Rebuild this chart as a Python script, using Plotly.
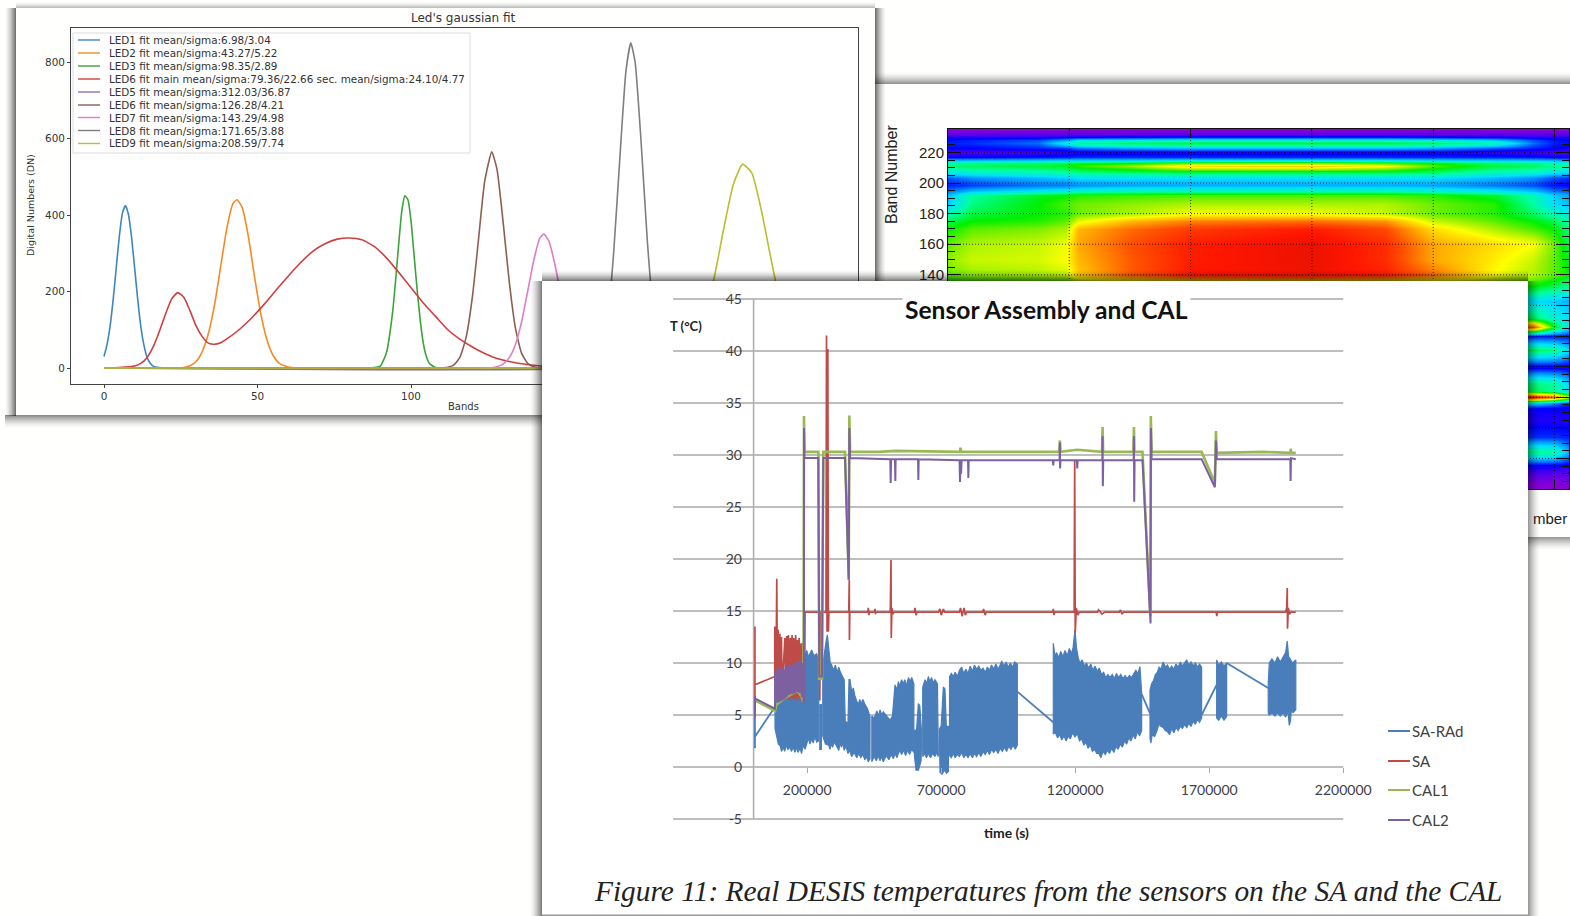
import plotly.graph_objects as go

W, H = 1570, 916

# ---------- Panel 1: LED gaussian fits ----------
LED_NAMES = ["LED1 fit mean/sigma:6.98/3.04", "LED2 fit mean/sigma:43.27/5.22", "LED3 fit mean/sigma:98.35/2.89",
             "LED6 fit main mean/sigma:79.36/22.66 sec. mean/sigma:24.10/4.77", "LED5 fit mean/sigma:312.03/36.87",
             "LED6 fit mean/sigma:126.28/4.21", "LED7 fit mean/sigma:143.29/4.98", "LED8 fit mean/sigma:171.65/3.88",
             "LED9 fit mean/sigma:208.59/7.74"]
LED_COLORS = ["#3f86bd", "#f58a24", "#3ba33b", "#cf3f3f", "#9370bd", "#8c5f52", "#e07cc4", "#7f7f7f", "#bcbd30"]
LED1_X = [0, 1, 2, 3, 4, 5, 6, 7, 8, 9, 10, 11, 12, 13, 14, 15, 16, 18, 20, 239]
LED1_Y = [30, 62, 110, 180, 263, 345, 405, 425, 400, 340, 260, 178, 108, 60, 29, 13, 5, 1, 0, 0]
LED2_X = [0, 24, 26, 28, 30, 32, 34, 36, 38, 40, 42, 43.3, 45, 47, 49, 51, 53, 55, 57, 59, 61, 64, 239]
LED2_Y = [0, 0, 1, 6, 17, 43, 90, 165, 265, 365, 430, 440, 420, 345, 240, 145, 76, 34, 13, 5, 1, 0, 0]
LED3_X = [0, 86, 88, 90, 92, 94, 95, 96, 97, 98, 99, 100, 101, 102, 103, 104, 105, 106, 108, 110, 239]
LED3_Y = [0, 0, 1, 5, 40, 145, 230, 325, 410, 450, 440, 385, 295, 205, 125, 65, 30, 12, 1, 0, 0]
LED4_X = [0, 5, 10, 12, 14, 16, 18, 20, 22, 24, 26, 28, 30, 32, 34, 36, 38, 40, 44, 48, 52, 56, 60, 64, 68, 72, 76,
          80, 84, 88, 92, 96, 100, 104, 108, 112, 116, 120, 124, 128, 132, 136, 140, 144, 150, 160, 239]
LED4_Y = [0, 1, 5, 12, 27, 55, 95, 140, 180, 197, 185, 150, 110, 82, 65, 62, 66, 76, 100, 130, 165, 203, 240, 275,
          305, 325, 337, 340, 335, 318, 288, 250, 210, 170, 135, 100, 75, 55, 38, 25, 17, 11, 7, 4, 1.5, 0, 0]
LED5_X = [0, 239]
LED5_Y = [0, 0]
LED6_X = [0, 108, 112, 114, 116, 118, 120, 122, 124, 126.3, 128, 130, 132, 134, 136, 138, 140, 142, 239]
LED6_Y = [0, 0, 2, 8, 29, 82, 186, 337, 488, 565, 520, 382, 226, 105, 39, 12, 3, 0, 0]
LED7_X = [0, 126, 130, 132, 134, 136, 138, 140, 142, 143.3, 145, 147, 149, 151, 153, 155, 157, 160, 239]
LED7_Y = [0, 0, 10, 27, 61, 120, 200, 282, 340, 350, 330, 266, 183, 105, 52, 22, 8, 0, 0]
LED8_X = [0, 157, 160, 162, 164, 166, 168, 170, 171.6, 173, 175, 177, 179, 181, 183, 185, 187, 239]
LED8_Y = [0, 0, 9, 38, 122, 300, 545, 775, 850, 800, 585, 330, 142, 47, 12, 3, 0, 0]
LED9_X = [0, 180, 184, 187, 190, 193, 196, 199, 202, 205, 208, 211, 214, 217, 220, 223, 226, 229, 235, 239]
LED9_Y = [0, 0, 3, 12, 30, 70, 145, 245, 370, 480, 533, 510, 417, 296, 180, 95, 43, 17, 1, 0]
LED_XS = [LED1_X, LED2_X, LED3_X, LED4_X, LED5_X, LED6_X, LED7_X, LED8_X, LED9_X]
LED_YS = [LED1_Y, LED2_Y, LED3_Y, LED4_Y, LED5_Y, LED6_Y, LED7_Y, LED8_Y, LED9_Y]
LED_XTICKS = [0, 50, 100, 150, 200]
LED_XTEXT = ["0", "50", "100", "", ""]
LED_YTICKS = [0, 200, 400, 600, 800]

# ---------- Panel 2: band / pixel heat map ----------
HEAT_X = [0, 40, 150, 195, 215, 300, 400, 600, 720, 800, 900, 965, 1000, 1024]
HEAT_BANDS = [0, 4, 11, 16, 24, 34, 45, 53, 56, 60, 64, 69, 80, 91, 100, 106, 112, 123, 133, 140, 150, 160, 170, 175,
              180, 186, 192, 195, 199, 203, 207, 211, 213, 215, 217, 220, 223, 226, 228, 230, 232, 235]
HEAT_Z = [
    [.02, .02, .02, .02, .02, .02, .02, .02, .02, .02, .02, .02, .02, .02],
    [.03, .03, .03, .03, .03, .03, .03, .03, .03, .03, .03, .03, .03, .03],
    [.08, .08, .08, .08, .08, .08, .08, .08, .08, .08, .08, .08, .07, .07],
    [.12, .12, .12, .12, .12, .12, .12, .12, .12, .12, .12, .12, .12, .11],
    [.4, .4, .4, .4, .4, .4, .4, .4, .4, .4, .42, .42, .4, .25],
    [.15, .15, .15, .15, .15, .15, .15, .15, .15, .15, .15, .15, .15, .14],
    [.1, .1, .1, .1, .1, .1, .1, .1, .1, .1, .1, .1, .1, .1],
    [.12, .12, .12, .12, .12, .12, .12, .12, .12, .12, .12, .12, .12, .12],
    [.25, .25, .25, .25, .25, .25, .25, .25, .25, .25, .3, .3, .22, .15],
    [.9, .9, .9, .9, .9, .9, .9, .9, .9, .9, .95, .95, .85, .62],
    [.42, .42, .42, .42, .42, .42, .42, .42, .42, .42, .45, .45, .4, .3],
    [.4, .4, .4, .4, .4, .4, .4, .4, .4, .4, .42, .42, .4, .28],
    [.1, .1, .1, .1, .1, .1, .1, .1, .1, .1, .1, .1, .1, .1],
    [.45, .45, .45, .45, .45, .45, .45, .45, .45, .45, .45, .45, .42, .3],
    [.13, .13, .13, .13, .13, .13, .13, .13, .13, .13, .13, .13, .13, .13],
    [.85, .85, .85, .85, .85, .85, .85, .85, .85, .85, .85, .85, .5, .3],
    [.45, .45, .45, .45, .45, .45, .45, .45, .45, .45, .45, .45, .35, .3],
    [.3, .3, .3, .3, .3, .3, .3, .3, .3, .3, .3, .3, .28, .25],
    [.5, .5, .5, .5, .5, .5, .5, .5, .5, .5, .55, .5, .45, .4],
    [.55, .58, .6, .62, .72, .84, .93, .95, .92, .82, .66, .6, .55, .5],
    [.58, .62, .63, .66, .74, .84, .92, .96, .9, .76, .68, .62, .55, .48],
    [.55, .6, .62, .65, .76, .85, .92, .96, .9, .76, .7, .66, .56, .45],
    [.5, .55, .57, .6, .74, .82, .88, .92, .86, .7, .6, .54, .5, .42],
    [.45, .5, .52, .55, .64, .74, .8, .82, .78, .62, .55, .5, .45, .38],
    [.38, .46, .5, .52, .56, .6, .66, .66, .62, .56, .52, .44, .38, .33],
    [.28, .42, .5, .54, .56, .58, .6, .6, .6, .56, .52, .4, .3, .27],
    [.27, .4, .48, .5, .52, .53, .54, .54, .54, .52, .47, .38, .28, .24],
    [.2, .27, .32, .34, .36, .38, .38, .38, .38, .36, .32, .27, .2, .18],
    [.14, .16, .2, .2, .22, .24, .25, .25, .25, .24, .2, .17, .13, .12],
    [.18, .22, .26, .28, .3, .3, .3, .3, .3, .3, .26, .22, .17, .15],
    [.33, .36, .38, .4, .42, .44, .46, .46, .46, .44, .38, .36, .32, .3],
    [.42, .44, .46, .48, .52, .58, .7, .72, .66, .54, .46, .44, .42, .38],
    [.4, .42, .44, .46, .48, .5, .56, .58, .54, .5, .44, .42, .38, .35],
    [.25, .26, .27, .28, .28, .28, .3, .3, .3, .28, .27, .26, .25, .22],
    [.12, .12, .13, .14, .15, .15, .15, .15, .15, .15, .14, .13, .12, .11],
    [.07, .07, .08, .09, .1, .1, .1, .1, .1, .1, .09, .08, .07, .07],
    [.12, .12, .14, .16, .2, .24, .26, .26, .26, .24, .18, .14, .12, .11],
    [.14, .15, .2, .34, .42, .46, .48, .48, .48, .46, .4, .2, .14, .13],
    [.13, .14, .17, .24, .3, .32, .34, .34, .34, .32, .28, .17, .13, .12],
    [.1, .1, .1, .11, .12, .13, .14, .14, .14, .13, .11, .1, .1, .1],
    [.06, .06, .06, .06, .06, .06, .06, .06, .06, .06, .06, .06, .06, .06],
    [.02, .02, .02, .02, .02, .02, .02, .02, .02, .02, .02, .02, .02, .02],
]
HEAT_COLORSCALE = [[0, "#a000c8"], [.06, "#6000e8"], [.12, "#0000ff"], [.22, "#0090ff"], [.3, "#00e0ff"],
                   [.4, "#00ffa0"], [.5, "#00f000"], [.58, "#90f000"], [.66, "#ffff00"], [.75, "#ffb000"],
                   [.85, "#ff5000"], [.93, "#ff1500"], [1, "#d01000"]]
HEAT_XTICKS = [0, 200, 400, 600, 800, 1000]
HEAT_XTEXT = ["", "", "", "", "", "1000"]
HEAT_YTICKS = [0, 20, 40, 60, 80, 100, 120, 140, 160, 180, 200, 220]
HEAT_YTEXT = ["", "", "", "", "", "", "", "140", "160", "180", "200", "220"]

# ---------- Panel 3: temperatures ----------
TEMP_YTICKS = [45, 40, 35, 30, 25, 20, 15, 10, 5, 0, -5]
TEMP_YTEXT = ["45", "40", "35", "30", "25", "20", "15", "10", "5", "0", "-5"]
TEMP_XTICKS = [200000, 700000, 1200000, 1700000, 2200000]
TEMP_XTEXT = ["200000", "700000", "1200000", "1700000", "2200000"]
GRID_START, GRID_END = -300000, 2200000

SA_RAD_LEAD = [(5000, 6.6), (5000, 1.8), (5000, 2.9), (79850, 5.8)]
SA_RAD_A = [(79850, 5.8), (84000, 8.2), (92300, 9.0), (100000, 8.7), (110950, 9.3), (120000, 9.0), (135800, 9.6),
            (150000, 9.2), (165000, 10.1), (173100, 9.6), (185000, 10.4), (198000, 11.2), (205000, 10.6),
            (216650, 11.25), (225000, 10.7), (235300, 10.9), (243000, 10.2), (243000, 2.5), (235300, 2.4),
            (229000, 2.9), (222000, 2.3), (216650, 2.7), (210000, 2.2), (205000, 2.8), (198000, 2.2), (192000, 1.7),
            (185000, 2.1), (179000, 1.3), (173100, 1.8), (166000, 1.4), (160000, 1.9), (154000, 1.4), (148000, 1.9),
            (141000, 1.5), (135800, 1.9), (128000, 1.7), (122000, 2.1), (116000, 1.5), (110950, 1.9), (104000, 1.5),
            (100000, 2.0), (92300, 2.2), (84000, 3.2), (79850, 3.7)]
SA_RAD_B = [(247000, 6.0), (253000, 6.0), (253000, 1.7), (247000, 1.7)]
SA_RAD_C = [(258000, 9.8), (264000, 11.2), (270000, 12.0), (275100, 12.7), (280000, 11.5), (286000, 10.0),
            (291300, 9.8), (298000, 9.3), (305000, 9.8), (312000, 9.1), (318000, 9.6), (322400, 9.2), (330000, 8.8),
            (338000, 8.4), (342000, 4.4), (352000, 4.2), (356000, 8.4), (359700, 8.4), (366000, 7.2), (372000, 7.6),
            (378300, 6.8), (384000, 6.3), (390000, 6.0), (396000, 6.5), (402000, 6.1), (408000, 6.5), (415650, 6.0),
            (425000, 5.6), (434300, 4.85), (434300, 0.8), (428100, 0.5), (421000, 1.0), (415000, 0.7), (408000, 1.2),
            (400000, 0.9), (392000, 1.3), (385000, 0.9), (375000, 1.4), (365900, 1.0), (358000, 1.6), (352000, 1.3),
            (345000, 2.0), (338000, 1.6), (332000, 2.4), (328000, 1.9), (322000, 2.3), (318000, 1.6), (310000, 2.0),
            (300000, 2.4), (295000, 1.9), (291300, 2.3), (285000, 1.7), (280000, 2.1), (268000, 2.2), (258000, 3.0)]
SA_RAD_E = [(441000, 4.9), (450000, 4.7), (460000, 5.4), (466000, 4.9), (471600, 5.5), (478000, 5.0), (484000, 5.3),
            (495000, 4.9), (508900, 4.5), (518000, 4.9), (527600, 7.9), (535000, 7.4), (540000, 8.2), (545000, 7.8),
            (552000, 8.4), (558700, 8.0), (564000, 8.4), (570000, 7.8), (578000, 8.6), (584000, 8.2), (589800, 8.6),
            (598000, 8.0), (598000, 1.4), (589800, 1.7), (582000, 1.2), (575000, 1.6), (567000, 1.1), (560000, 1.6),
            (552500, 1.2), (544000, 1.6), (535000, 0.9), (528000, 1.3), (521400, 0.8), (513000, 1.2), (505000, 0.7),
            (495000, 1.1), (484000, 0.5), (477000, 1.0), (471600, 0.6), (465000, 1.1), (458000, 0.6), (450000, 1.0),
            (441000, 0.5)]
SA_RAD_F = [(600000, 3.5), (608000, 3.6), (614650, 6.1), (620000, 5.9), (627100, 3.2), (625000, 0.6), (615000, -0.3),
            (606000, -0.3), (600000, 1.1)]
SA_RAD_G = [(631000, 7.7), (640000, 8.4), (646000, 8.0), (652000, 8.7), (658000, 8.2), (664000, 8.6), (670000, 8.1),
            (676800, 8.4), (686000, 8.0), (689300, 3.5), (689300, 1.0), (682000, 1.4), (676800, 1.0), (668000, 1.3),
            (660000, 0.9), (652000, 1.3), (645000, 0.9), (638000, 1.3), (631000, 1.0)]
SA_RAD_H = [(693000, 3.6), (700000, 4.0), (707900, 7.7), (714000, 7.5), (719000, 3.9), (727000, 3.9), (727000, -0.4),
            (720400, -0.6), (712000, -0.3), (703000, -0.7), (695500, -0.5)]
SA_RAD_I = [(731000, 8.7), (738000, 9.0), (745000, 8.7), (752000, 9.1), (760000, 8.7), (768000, 9.3), (776000, 9.6),
            (784000, 9.0), (792000, 9.4), (800000, 9.0), (808000, 9.7), (816000, 9.2), (824000, 9.8), (832000, 9.4),
            (840000, 9.7), (848000, 9.3), (856000, 9.5), (864000, 9.1), (872000, 9.6), (880000, 9.3), (888000, 9.8),
            (896000, 9.4), (904000, 9.9), (912000, 9.4), (920000, 9.8), (925600, 10.2), (934000, 9.7), (942000, 10.1),
            (950000, 9.6), (958000, 10.0), (966000, 9.6), (974000, 10.1), (984000, 9.9), (984000, 2.1), (976000, 1.7),
            (968000, 2.1), (960000, 1.7), (952000, 2.0), (944000, 1.5), (936000, 1.9), (928000, 1.5), (920000, 1.8),
            (912000, 1.3), (904000, 1.7), (896000, 1.4), (888000, 1.7), (880000, 1.2), (872000, 1.6), (864000, 1.2),
            (856000, 1.5), (848000, 1.0), (840000, 1.4), (832000, 1.0), (824000, 1.3), (816000, 0.9), (808000, 1.3),
            (800000, 0.9), (792000, 1.2), (784000, 0.9), (776000, 1.4), (768000, 1.0), (760000, 1.2), (752000, 0.9),
            (745000, 1.3), (738000, 0.9), (731000, 1.1)]
SA_RAD_LINK1 = [(984000, 7.25), (1118000, 4.3)]
SA_RAD_J = [(1118200, 11.9), (1124000, 10.7), (1130600, 11.0), (1138000, 10.5), (1146000, 11.1), (1154000, 10.6),
            (1162000, 11.2), (1170000, 10.7), (1178000, 11.4), (1186000, 10.9), (1192000, 11.5), (1199000, 13.2),
            (1205000, 11.4), (1212000, 10.4), (1218000, 10.0), (1226000, 10.3), (1234000, 9.7), (1242000, 10.0),
            (1250000, 9.5), (1258000, 9.9), (1266000, 9.3), (1274000, 9.7), (1282000, 9.2), (1290000, 9.5),
            (1298000, 8.9), (1306000, 9.1), (1314000, 8.6), (1322000, 8.9), (1330000, 8.6), (1338000, 8.9),
            (1346000, 8.5), (1354000, 9.0), (1362000, 8.6), (1370000, 8.9), (1378000, 8.5), (1386000, 8.8),
            (1394000, 8.5), (1402000, 8.8), (1410000, 8.6), (1418000, 8.9), (1426000, 9.3), (1434000, 9.0),
            (1441500, 9.65), (1447800, 7.1), (1447800, 3.5), (1440000, 3.0), (1432000, 3.4), (1424000, 2.7),
            (1416000, 3.1), (1408000, 2.5), (1400000, 2.8), (1392000, 2.2), (1384000, 2.5), (1376000, 1.9),
            (1368000, 2.2), (1360000, 1.7), (1352000, 2.0), (1344000, 1.4), (1336000, 1.8), (1328000, 1.3),
            (1320000, 1.6), (1312000, 1.2), (1304000, 1.5), (1296000, 0.9), (1288000, 1.3), (1280000, 1.3),
            (1272000, 1.7), (1264000, 1.5), (1256000, 2.1), (1248000, 1.8), (1240000, 2.4), (1232000, 2.1),
            (1224000, 2.7), (1216000, 2.5), (1208000, 3.2), (1199000, 2.9), (1190000, 3.3), (1182000, 2.7),
            (1174000, 3.0), (1166000, 2.5), (1158000, 3.0), (1150000, 2.6), (1142000, 3.1), (1134000, 2.8),
            (1126000, 3.3), (1118200, 3.2)]
SA_RAD_LINK2 = [(1447800, 7.0), (1479000, 5.15)]
SA_RAD_K = [(1479000, 7.4), (1485000, 8.0), (1492000, 8.3), (1499000, 8.9), (1506000, 9.1), (1513000, 9.6),
            (1520000, 9.4), (1528000, 10.1), (1536000, 9.6), (1544000, 9.8), (1552000, 9.4), (1560000, 9.7),
            (1568000, 9.4), (1576000, 9.9), (1584000, 9.6), (1592000, 10.1), (1600000, 9.7), (1608000, 10.0),
            (1616000, 10.3), (1624000, 9.8), (1632000, 10.1), (1640000, 9.7), (1648000, 10.0), (1656000, 9.6),
            (1664000, 9.9), (1671600, 9.6), (1671600, 4.7), (1664000, 4.3), (1656000, 4.6), (1648000, 4.1),
            (1640000, 4.4), (1632000, 3.9), (1624000, 4.2), (1616000, 3.8), (1608000, 4.1), (1600000, 3.7),
            (1592000, 3.9), (1584000, 3.5), (1576000, 3.8), (1568000, 3.3), (1560000, 3.7), (1552000, 3.1),
            (1544000, 3.4), (1536000, 3.5), (1528000, 3.8), (1520000, 3.9), (1512000, 4.1), (1504000, 3.4),
            (1496000, 2.9), (1488000, 3.2), (1482000, 2.3), (1479000, 2.8)]
SA_RAD_LINK3 = [(1671600, 5.0), (1727600, 7.9)]
SA_RAD_L = [(1727600, 10.3), (1735000, 9.8), (1745000, 10.1), (1755000, 9.7), (1765000, 10.0), (1765000, 4.85),
            (1755000, 4.5), (1745000, 4.9), (1735000, 4.5), (1727600, 4.7)]
SA_RAD_LINK4 = [(1765000, 10.0), (1920000, 7.6)]
SA_RAD_M = [(1920000, 8.0), (1924000, 10.0), (1934000, 10.4), (1945000, 10.0), (1955000, 10.6), (1965000, 10.1),
            (1976000, 10.6), (1985000, 11.0), (1991000, 12.1), (1996000, 10.6), (2001000, 10.45), (2010000, 10.0),
            (2023000, 10.3), (2023000, 5.5), (2012000, 5.2), (2008000, 5.9), (2003000, 4.4), (1998500, 4.0),
            (1994000, 5.3), (1985000, 4.8), (1976000, 5.2), (1965000, 4.9), (1955000, 5.2), (1945000, 4.9),
            (1934000, 5.2), (1924000, 5.0), (1920000, 5.2)]
SA_RAD_POLYS = [SA_RAD_A, SA_RAD_B, SA_RAD_C, SA_RAD_E, SA_RAD_F, SA_RAD_G, SA_RAD_H, SA_RAD_I, SA_RAD_J, SA_RAD_K,
                SA_RAD_L, SA_RAD_M]
SA_RAD_LINES = [SA_RAD_LEAD, SA_RAD_LINK1, SA_RAD_LINK2, SA_RAD_LINK3, SA_RAD_LINK4]

SA_LINE = [(5000, 13.5), (5000, 4.8), (5000, 7.9), (79000, 8.7), (79000, 13.5), (83000, 6.5), (86500, 18.1), (89000, 7),
           (92000, 13.2), (95000, 6.8), (98000, 12.8), (101000, 6.6), (104000, 12.5), (106000, 7.5), (117000, 12.4),
           (120000, 6.5), (123500, 12.6), (127000, 6.5), (130000, 12.7), (133500, 6.5), (137000, 12.4), (140000, 6.6),
           (143500, 12.7), (147000, 6.5), (150000, 12.4), (153500, 6.6), (157000, 12.7), (160000, 6.4), (163500, 12.2),
           (167000, 6.6), (170000, 12.4), (173500, 6.5), (177000, 11.9), (180000, 6.4), (183500, 12.0), (186000, 6.3),
           (190000, 6.2), (192000, 14.9), (240000, 14.9), (247000, 14.9), (247000, 6.4), (249000, 14.9), (270000, 14.9),
           (272000, 41.5), (274000, 13), (277000, 40.2), (279000, 13), (281000, 14.9), (355000, 14.9), (357000, 18),
           (357500, 12.2), (359000, 14.9), (426000, 14.9), (428000, 15.3), (430000, 14.6), (432000, 14.9), (451000, 14.9),
           (453000, 15.2), (455000, 14.7), (457000, 14.9), (510000, 14.9), (512600, 19.9), (513600, 12.4), (516000, 15.3),
           (520000, 14.7), (524000, 14.9), (600000, 14.9), (602000, 15.3), (606000, 14.6), (610000, 14.9), (690000, 14.9),
           (695000, 15.2), (700000, 14.6), (708000, 15.2), (712000, 14.9), (768000, 14.9), (772000, 15.3), (778000, 14.5),
           (785000, 15.3), (790000, 14.6), (795000, 14.9), (855000, 14.9), (858000, 15.2), (864000, 14.6), (868000, 14.9),
           (1116000, 14.9), (1118000, 15.2), (1121000, 14.6), (1124000, 14.9), (1196000, 14.9), (1198000, 29.5),
           (1200000, 12.9), (1204000, 15.3), (1210000, 14.6), (1215000, 14.9), (1284000, 14.9), (1287000, 15.1),
           (1300000, 14.7), (1310000, 14.9), (1365000, 14.9), (1368000, 15.1), (1375000, 14.7), (1380000, 14.9),
           (1726000, 14.9), (1728000, 14.5), (1731000, 14.9), (1985000, 14.9), (1989000, 15.3), (1991000, 17.2),
           (1992000, 13.3), (1995000, 15.3), (2000000, 14.7), (2005000, 14.9), (2023000, 14.9)]

CAL1_LINE = [(5000, 6.4), (80000, 5.4), (85000, 6.0), (110000, 6.5), (140000, 7.0), (165000, 7.3), (180000, 6.7),
             (186000, 6.2), (188000, 33.75), (190000, 30.3), (241500, 30.3), (245000, 8.5), (255000, 8.5), (260000, 30.3),
             (341000, 30.3), (355000, 18), (357200, 33.8), (360000, 30.3), (470000, 30.3), (511400, 30.4), (528800, 30.4),
             (770100, 30.3), (772000, 30.7), (774000, 30.3), (1140000, 30.3), (1142900, 31.4), (1145000, 30.3),
             (1207500, 30.5), (1300000, 30.3), (1302000, 32.7), (1304000, 30.3), (1417000, 30.3), (1419000, 32.7),
             (1421000, 30.3), (1451000, 30.3), (1480000, 14.5), (1482000, 33.75), (1485000, 30.3), (1671500, 30.3),
             (1721000, 27.3), (1725000, 32.3), (1728000, 30.2), (1900000, 30.3), (2003000, 30.2), (2004000, 30.6),
             (2006000, 30.2), (2023000, 30.2)]

CAL2_LINE = [(5000, 6.8), (5000, 4.8), (5000, 6.6), (80000, 5.6), (80000, 9.0), (84000, 6.3), (88000, 9.4), (92000, 6.2),
             (96000, 9.6), (100000, 6.3), (104000, 9.5), (108000, 6.4), (112000, 9.4), (116000, 6.5), (120000, 9.8),
             (124000, 6.7), (128000, 9.7), (132000, 6.9), (136000, 9.9), (140000, 7.0), (144000, 9.8), (148000, 7.0),
             (152000, 10.0), (156000, 7.1), (160000, 10.1), (164000, 7.2), (168000, 10.2), (172000, 7.1), (176000, 10.4),
             (180000, 6.7), (184000, 10.0), (186000, 6.2), (188000, 6.2), (188100, 32.6), (190000, 29.7), (241500, 29.7),
             (245000, 8.7), (255000, 8.7), (260200, 29.7), (341000, 29.7), (355000, 18), (357200, 32.6), (360000, 29.7),
             (510000, 29.6), (511400, 27.3), (513000, 29.6), (527500, 29.6), (528800, 27.5), (530000, 29.6),
             (613500, 29.6), (614700, 27.6), (616000, 29.6), (768500, 29.5), (770100, 27.4), (772000, 29.5),
             (774000, 28.2), (776000, 29.5), (800000, 29.5), (801200, 27.8), (802500, 29.5), (1116500, 29.5),
             (1118000, 29.0), (1119500, 29.5), (1141500, 29.5), (1142900, 31.2), (1143500, 28.7), (1145000, 29.5),
             (1206000, 29.5), (1207500, 28.7), (1209000, 29.5), (1301000, 29.5), (1302000, 31.8), (1303000, 27),
             (1304500, 29.5), (1418000, 29.5), (1419000, 31.8), (1420000, 25.5), (1421500, 29.5), (1451000, 29.5),
             (1481000, 13.8), (1482500, 32.6), (1485000, 29.6), (1671500, 29.6), (1721000, 26.9), (1725000, 31.4),
             (1728000, 29.6), (2002500, 29.6), (2003500, 27.5), (2005000, 29.7), (2023000, 29.6)]

TEMP_SERIES = ["SA-RAd", "SA", "CAL1", "CAL2"]
TEMP_COLORS = ["#4a7ebb", "#be4b48", "#98b954", "#7d60a0"]


def X(p):
    return p / W


def Y(p):
    return 1 - p / H


def split(points):
    return [p[0] for p in points], [p[1] for p in points]


fig = go.Figure()

# Panel 1 traces
for nm, xs, ys, col in zip(LED_NAMES, LED_XS, LED_YS, LED_COLORS):
    fig.add_trace(go.Scatter(x=xs, y=ys, name=nm, mode="lines", line=dict(color=col, width=1.6, shape="spline", smoothing=0.5),
                             xaxis="x", yaxis="y", showlegend=False))

# Panel 2 traces
fig.add_trace(go.Heatmap(x=HEAT_X, y=HEAT_BANDS, z=HEAT_Z, colorscale=HEAT_COLORSCALE, zmin=0, zmax=1, zsmooth="best",
                         showscale=False, xaxis="x2", yaxis="y2", name="Band map"))
for tx in HEAT_XTICKS[1:]:
    fig.add_trace(go.Scatter(x=[tx, tx], y=[0, 235], mode="lines", xaxis="x2", yaxis="y2", showlegend=False,
                             line=dict(color="rgba(0,0,0,.75)", width=1, dash="1px,2px"), hoverinfo="skip"))
for ty in HEAT_YTICKS[1:]:
    fig.add_trace(go.Scatter(x=[0, 1024], y=[ty, ty], mode="lines", xaxis="x2", yaxis="y2", showlegend=False,
                             line=dict(color="rgba(0,0,0,.75)", width=1, dash="1px,2px"), hoverinfo="skip"))

# Panel 3 grid + axes
grid_x, grid_y = [], []
for t in TEMP_YTICKS:
    grid_x += [GRID_START, GRID_END, None]
    grid_y += [t, t, None]
fig.add_trace(go.Scatter(x=grid_x, y=grid_y, mode="lines", xaxis="x3", yaxis="y3", showlegend=False,
                         line=dict(color="#a8a8a8", width=1.4), hoverinfo="skip"))
fig.add_trace(go.Scatter(x=[0, 0], y=[TEMP_YTICKS[0], TEMP_YTICKS[-1]], mode="lines", xaxis="x3", yaxis="y3",
                         showlegend=False, line=dict(color="#b0b0b0", width=1.6), hoverinfo="skip"))

# Panel 3 series
poly_x, poly_y = [], []
for poly in SA_RAD_POLYS:
    a, b = split(poly)
    poly_x += a + [a[0], None]
    poly_y += b + [b[0], None]
fig.add_trace(go.Scatter(x=poly_x, y=poly_y, mode="lines", fill="toself", fillcolor=TEMP_COLORS[0], name=TEMP_SERIES[0],
                         line=dict(color=TEMP_COLORS[0], width=1.2), xaxis="x3", yaxis="y3", showlegend=False))
for seg in SA_RAD_LINES:
    a, b = split(seg)
    fig.add_trace(go.Scatter(x=a, y=b, mode="lines", name=TEMP_SERIES[0], line=dict(color=TEMP_COLORS[0], width=1.8),
                             xaxis="x3", yaxis="y3", showlegend=False))
for name, seq, col, wd in [(TEMP_SERIES[1], SA_LINE, TEMP_COLORS[1], 1.7), (TEMP_SERIES[2], CAL1_LINE, TEMP_COLORS[2], 2.6),
                           (TEMP_SERIES[3], CAL2_LINE, TEMP_COLORS[3], 2.0)]:
    a, b = split(seq)
    fig.add_trace(go.Scatter(x=a, y=b, mode="lines", name=name, line=dict(color=col, width=wd), xaxis="x3", yaxis="y3",
                             showlegend=False))

# ---------- geometry in pixels ----------
LED_BOX = (71, 858, 28, 384)
HEAT_BOX = (948, 1569, 129, 489)
P3 = (542, 1528, 281, 916)
led_xr = [(71 - 104) / 3.07, (858 - 104) / 3.07]
led_yr = [(368 - 384) / .3825, (368 - 28) / .3825]
S_PER_PX = 3731
t_xr = [(P3[0] - 753.6) * S_PER_PX, (P3[1] - 753.6) * S_PER_PX]
t_yr = [(767 - P3[3]) / 10.4, (767 - P3[2]) / 10.4]

LED_FONT = dict(family="DejaVu Sans", size=10.4, color="#333333")
HEAT_FONT = dict(family="Liberation Sans", size=15, color="#222222")
XL_FONT = dict(family="Lato", size=14, color="#404040")

layout = dict(
    template="none",
    width=W, height=H, margin=dict(l=0, r=0, t=0, b=0), autosize=False, showlegend=False,
    paper_bgcolor="#fffffe", plot_bgcolor="#ffffff", hovermode="closest",
    xaxis=dict(domain=[X(LED_BOX[0]), X(LED_BOX[1])], range=led_xr, tickvals=LED_XTICKS, ticktext=LED_XTEXT, tickfont=LED_FONT,
               ticks="outside", ticklen=3, tickcolor="#444", showgrid=False, zeroline=False, showline=True, mirror=True,
               linecolor="#444", linewidth=1, anchor="y", automargin=False),
    yaxis=dict(domain=[Y(LED_BOX[3]), Y(LED_BOX[2])], range=led_yr, tickvals=LED_YTICKS, tickfont=LED_FONT, ticks="outside",
               ticklen=3, tickcolor="#444", showgrid=False, zeroline=False, showline=True, mirror=True, linecolor="#444",
               linewidth=1, anchor="x", automargin=False),
    xaxis2=dict(domain=[X(HEAT_BOX[0]), X(HEAT_BOX[1])], range=[0, 1024], tickvals=HEAT_XTICKS, ticktext=HEAT_XTEXT,
                tickfont=HEAT_FONT, ticks="inside", ticklen=9, tickcolor="#111", showgrid=False, zeroline=False, showline=True,
                mirror="ticks", linecolor="#111", anchor="y2", automargin=False),
    yaxis2=dict(domain=[Y(HEAT_BOX[3]), Y(HEAT_BOX[2])], range=[0, 235.3], tickvals=HEAT_YTICKS, ticktext=HEAT_YTEXT,
                tickfont=HEAT_FONT, ticks="inside", ticklen=13, tickcolor="#111", showgrid=False, zeroline=False, showline=True,
                mirror="ticks", linecolor="#111", anchor="x2", automargin=False,
                minor=dict(dtick=5, ticks="inside", ticklen=7, tickcolor="#111")),
    xaxis3=dict(domain=[X(P3[0]), X(P3[1])], range=t_xr, tickvals=TEMP_XTICKS, ticktext=TEMP_XTEXT, tickfont=XL_FONT,
                ticks="outside", ticklen=5, tickcolor="#a8a8a8", ticklabelstandoff=5, showgrid=False, zeroline=False,
                showline=False, anchor="free", position=Y(767), automargin=False),
    yaxis3=dict(domain=[0, Y(P3[2])], range=t_yr, tickvals=TEMP_YTICKS, ticktext=TEMP_YTEXT, tickfont=XL_FONT, ticks="",
                ticklabelstandoff=12, showgrid=False, zeroline=False, showline=False, anchor="free", position=X(754),
                automargin=False),
)

shapes = []
annots = []


def note(px, py, text, font, xanchor="center", angle=0, bg=None, pad=0):
    annots.append(dict(x=X(px), y=Y(py), xref="paper", yref="paper", text=text, showarrow=False, font=font,
                       xanchor=xanchor, yanchor="middle", textangle=angle, bgcolor=bg, borderpad=pad))


def shadow(x0, y0, x1, y1, side, strength):
    """1px strips fading away from the panel edge."""
    n = int(abs(x1 - x0) if side in ("l", "r") else abs(y1 - y0))
    for i in range(n):
        op = strength * (1 - i / n) ** 1.6
        if side == "l":
            r = (x1 - i - 1, y0, x1 - i, y1)
        elif side == "r":
            r = (x0 + i, y0, x0 + i + 1, y1)
        elif side == "t":
            r = (x0, y1 - i - 1, x1, y1 - i)
        else:
            r = (x0, y0 + i, x1, y0 + i + 1)
        shapes.append(dict(type="rect", xref="paper", yref="paper", x0=X(r[0]), x1=X(r[2]), y0=Y(r[1]), y1=Y(r[3]),
                           line=dict(width=0), fillcolor=f"rgba(0,0,0,{op:.3f})", layer="above"))


# shadows (panel 2, panel 1, panel 3 order)
shadow(875, 72, 1570, 84, "t", .42)
shadow(1528, 537, 1570, 550, "b", .4)
shadow(5, 8, 16, 416, "l", .55)
shadow(16, 2, 875, 8, "t", .25)
shadow(875, 8, 886, 281, "r", .55)
shadow(5, 415, 542, 428, "b", .45)
shadow(530, 281, 542, 916, "l", .5)
shadow(542, 270, 1528, 281, "t", .5)
shadow(1528, 281, 1540, 916, "r", .4)
shapes.append(dict(type="rect", xref="paper", yref="paper", x0=X(542), x1=X(1528), y0=Y(916), y1=Y(914.5),
                   line=dict(width=0), fillcolor="#9a9a9a", layer="above"))

# Panel 1 legend (drawn by hand: rows are tighter than plotly's native legend allows)
shapes.append(dict(type="rect", xref="paper", yref="paper", x0=X(73), x1=X(470), y0=Y(153), y1=Y(33),
                   line=dict(color="#dddddd", width=1), fillcolor="white", layer="above"))
LEG_ROWS = [40, 53, 66, 79, 92, 105, 117.5, 130.5, 143.5]
for row, nm, col in zip(LEG_ROWS, LED_NAMES, LED_COLORS):
    shapes.append(dict(type="line", xref="paper", yref="paper", x0=X(78), x1=X(100), y0=Y(row), y1=Y(row),
                       line=dict(color=col, width=1.4), layer="above"))
    note(108, row, nm, LED_FONT, "left")
note(463, 18, "Led's gaussian fit", dict(family="DejaVu Sans", size=12, color="#333333"))
note(463, 406, "Bands", dict(family="DejaVu Sans", size=10, color="#333333"))
note(31, 205, "Digital Numbers (DN)", dict(family="DejaVu Sans", size=9.5, color="#333333"), angle=-90)

# Panel 2 labels
note(891, 175, "Band Number", dict(family="Liberation Sans", size=16, color="#222222"), angle=-90)
note(1532, 518, "mber", HEAT_FONT, "left")

# Panel 3 labels
note(1046, 309, "<b>Sensor Assembly and CAL</b>", dict(family="Lato", size=24.6, color="#111111"), bg="white", pad=2)
note(686, 326, "<b>T (°C)</b>", dict(family="Lato", size=13, color="#222222"))
note(1006, 832, "<b>time (s)</b>", dict(family="Lato", size=14, color="#222222"))
note(1048, 891, "<i>Figure 11: Real DESIS temperatures from the sensors on the SA and the CAL</i>",
     dict(family="Liberation Serif", size=29.4, color="#222222"))
for row, nm, col in zip([731, 761, 790, 820], TEMP_SERIES, TEMP_COLORS):
    shapes.append(dict(type="line", xref="paper", yref="paper", x0=X(1388), x1=X(1410), y0=Y(row), y1=Y(row),
                       line=dict(color=col, width=2), layer="above"))
    note(1411, row, nm, dict(family="Lato", size=15, color="#404040"), "left")

layout["shapes"] = shapes
layout["annotations"] = annots
fig.update_layout(**layout)

fig.write_html("out.html", config=dict(displayModeBar=False, responsive=False),
               post_script="document.body.style.margin='0';document.body.style.overflow='hidden';")
